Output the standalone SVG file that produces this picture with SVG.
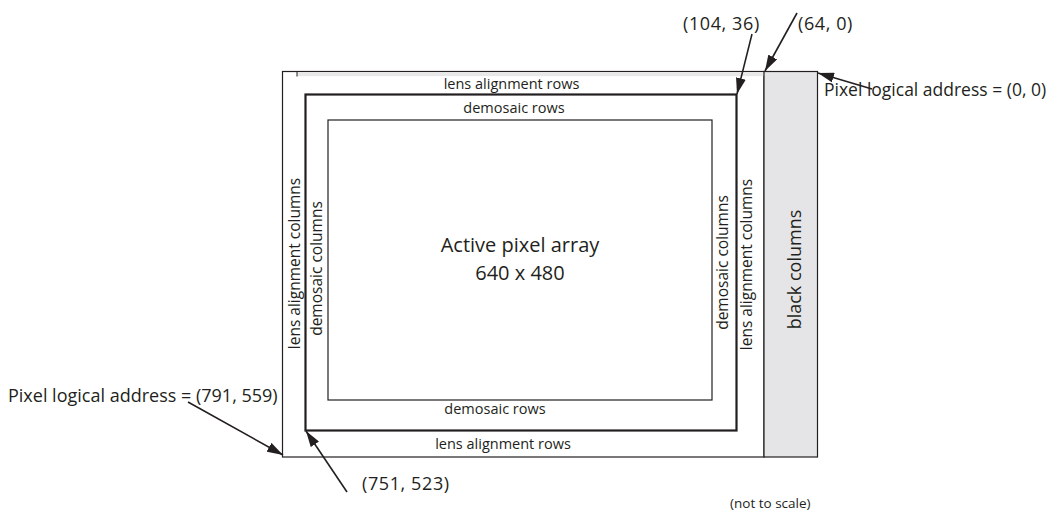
<svg xmlns="http://www.w3.org/2000/svg" width="1054" height="516" viewBox="0 0 1054 516">
<style>
text{font-family:"Open Sans","Noto Sans","Liberation Sans",sans-serif;fill:#231f20}
.r{font-size:14.5px}
.cl{font-size:15.5px}
.m{font-size:18px}
.l{font-size:20px}
.c{text-anchor:middle}
.thin{stroke:#231f20;stroke-width:1.2}
.thick{fill:none;stroke:#231f20;stroke-width:2.2}
.arr{fill:none;stroke:#231f20;stroke-width:1.6}
</style>
<defs>
<marker id="ah" viewBox="0 0 16 10" refX="16" refY="5" markerWidth="16" markerHeight="10" markerUnits="userSpaceOnUse" orient="auto">
<path d="M0,0 L16,5 L0,10 Z" fill="#231f20"/>
</marker>
</defs>
<g id="outer">
<rect x="282.5" y="71.5" width="481.5" height="385.5" fill="#ffffff" class="thin"/>
<rect x="297" y="72.2" width="467" height="4" fill="#e8e8e8"/>
<line x1="297" y1="71.5" x2="297" y2="76.5" stroke="#231f20" stroke-width="1"/>
</g>
<g id="black-columns">
<rect x="764" y="71.5" width="53.5" height="385.5" fill="#e5e5e7" class="thin"/>
<text class="m c" transform="translate(801,269.5) rotate(-90)">black columns</text>
</g>
<g id="lens-alignment">
<rect x="305.5" y="94.5" width="431" height="336" class="thick"/>
<text class="r c" x="511.5" y="89">lens alignment rows</text>
<text class="r c" x="503" y="449">lens alignment rows</text>
<text class="cl c" transform="translate(300,263.5) rotate(-90)">lens alignment columns</text>
<text class="cl c" transform="translate(752,264.5) rotate(-90)">lens alignment columns</text>
</g>
<g id="demosaic">
<rect x="328" y="120" width="384" height="280" fill="none" class="thin"/>
<text class="r c" x="514" y="113">demosaic rows</text>
<text class="r c" x="495" y="414">demosaic rows</text>
<text class="cl c" transform="translate(322,268.5) rotate(-90)">demosaic columns</text>
<text class="cl c" transform="translate(728,262.5) rotate(-90)">demosaic columns</text>
</g>
<g id="active">
<text class="l c" x="520" y="252">Active pixel array</text>
<text class="l c" x="520" y="280">640 x 480</text>
</g>
<g id="labels">
<text class="m" x="683" y="30" letter-spacing="0.6">(104, 36)</text>
<text class="m" x="798" y="30" letter-spacing="0.6">(64, 0)</text>
<text style="font-size:17.5px" x="824" y="96">Pixel logical address = (0, 0)</text>
<text class="m" x="8" y="402">Pixel logical address = (791, 559)</text>
<text class="m" x="362" y="490" letter-spacing="0.6">(751, 523)</text>
<text style="font-size:13.5px" x="730" y="508">(not to scale)</text>
</g>
<g id="connectors">
<line class="arr" x1="752" y1="34" x2="737" y2="94" marker-end="url(#ah)"/>
<line class="arr" x1="797" y1="13" x2="765" y2="71" marker-end="url(#ah)"/>
<line class="arr" x1="872" y1="89" x2="818" y2="73" marker-end="url(#ah)"/>
<line class="arr" x1="188" y1="402" x2="283" y2="455" marker-end="url(#ah)"/>
<line class="arr" x1="347" y1="492" x2="306" y2="431" marker-end="url(#ah)"/>
</g>
</svg>
